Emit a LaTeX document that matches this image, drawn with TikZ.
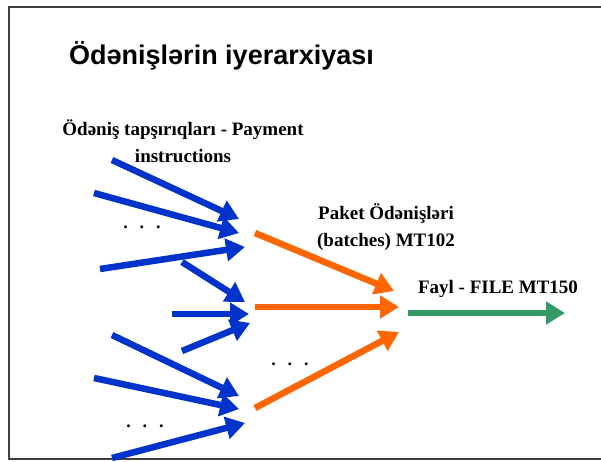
\documentclass[tikz,border=0pt]{standalone}
\usepackage{fontspec}
\setmainfont{Liberation Serif}
\newfontfamily\titlefont{Liberation Sans}
\usetikzlibrary{arrows.meta}
\definecolor{myblue}{RGB}{0,51,204}
\definecolor{myorange}{RGB}{255,102,0}
\definecolor{mygreen}{RGB}{51,153,102}
\tikzset{
  arr/.style={line width=6.5pt, -{Triangle[length=19pt,width=22pt]}},
  bluearr/.style={arr, myblue},
  orangearr/.style={arr, myorange},
  greenarr/.style={arr, mygreen},
  lbl/.style={font=\fontsize{19}{27}\selectfont\bfseries, inner sep=0pt, align=center},
  dots/.style={font=\fontsize{18}{18}\selectfont\bfseries, inner sep=0pt},
}
\begin{document}
\begin{tikzpicture}[x=1pt,y=-1pt]
\useasboundingbox (0,0) rectangle (601,462);
\fill[white] (0,0) rectangle (601,462);
\draw[line width=1.5pt, black!75] (9,7) rectangle (620,459);

\node[anchor=base west, inner sep=0pt, font=\titlefont\fontsize{27}{30}\selectfont\bfseries] (title) at (69,65) {Ödənişlərin iyerarxiyası};
\node[lbl] (pi) at (183,141) {Ödəniş tapşırıqları - Payment\\instructions};
\node[lbl] (batch) at (386,227) {Paket Ödənişləri\\(batches) MT102};
\node[lbl] (file) at (498,289) {Fayl - FILE MT150};

\node[dots] (d1) at (142,227) {.\hspace{12pt}.\hspace{12pt}.};
\node[dots] (d2) at (145,426) {.\hspace{12pt}.\hspace{12pt}.};
\node[dots] (d3) at (290,364) {.\hspace{12pt}.\hspace{12pt}.};

% blue arrows
\coordinate (b1s) at (112,160); \coordinate (b1e) at (239,219);
\coordinate (b2s) at (94,193);  \coordinate (b2e) at (239,233);
\coordinate (b3s) at (100,269); \coordinate (b3e) at (245,247);
\coordinate (b4s) at (182,262); \coordinate (b4e) at (245,302);
\coordinate (b5s) at (172,314); \coordinate (b5e) at (249,314);
\coordinate (b6s) at (182,351); \coordinate (b6e) at (250,323);
\coordinate (b7s) at (112,335); \coordinate (b7e) at (239,396);
\coordinate (b8s) at (94,378);  \coordinate (b8e) at (239,409);
\coordinate (b9s) at (112,458); \coordinate (b9e) at (245,423);
\foreach \i in {1,...,9} \draw[bluearr] (b\i s) -- (b\i e);

% orange arrows
\coordinate (o1s) at (255,233); \coordinate (o1e) at (394,291);
\coordinate (o2s) at (255,307); \coordinate (o2e) at (399,307);
\coordinate (o3s) at (255,408); \coordinate (o3e) at (399,332);
\foreach \i in {1,2,3} \draw[orangearr] (o\i s) -- (o\i e);

% green arrow
\coordinate (gs) at (408,313); \coordinate (ge) at (565,313);
\draw[greenarr] (gs) -- (ge);
\end{tikzpicture}
\end{document}
